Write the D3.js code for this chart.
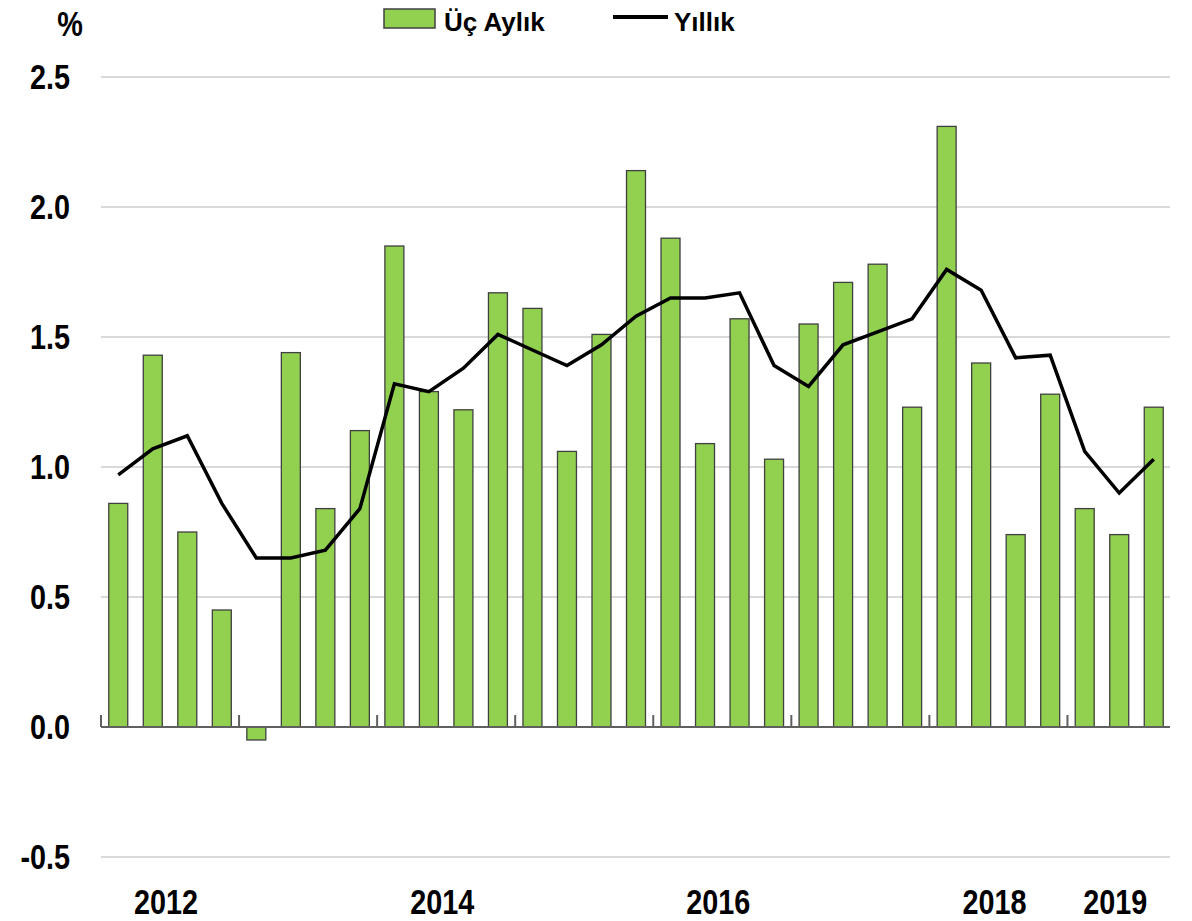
<!DOCTYPE html>
<html><head><meta charset="utf-8">
<script src="https://cdn.jsdelivr.net/npm/d3@7"></script>
<style>
body{margin:0;background:#fff;}
svg text{font-family:'Liberation Sans',Arial,sans-serif;font-weight:bold;fill:#000;}
</style></head><body>
<script>
const quarters = ["2012Q1","2012Q2","2012Q3","2012Q4","2013Q1","2013Q2","2013Q3","2013Q4",
"2014Q1","2014Q2","2014Q3","2014Q4","2015Q1","2015Q2","2015Q3","2015Q4",
"2016Q1","2016Q2","2016Q3","2016Q4","2017Q1","2017Q2","2017Q3","2017Q4",
"2018Q1","2018Q2","2018Q3","2018Q4","2019Q1","2019Q2","2019Q3"];
const quarterly = [0.86,1.43,0.75,0.45,-0.05,1.44,0.84,1.14,
1.85,1.29,1.22,1.67,1.61,1.06,1.51,2.14,
1.88,1.09,1.57,1.03,1.55,1.71,1.78,1.23,
2.31,1.40,0.74,1.28,0.84,0.74,1.23];
const annual = [0.97,1.07,1.12,0.86,0.65,0.65,0.68,0.84,
1.32,1.29,1.38,1.51,1.45,1.39,1.47,1.58,
1.65,1.65,1.67,1.39,1.31,1.47,1.52,1.57,
1.76,1.68,1.42,1.43,1.06,0.90,1.03];
const yearLabels = ["2012","2014","2016","2018","2019"];
const yTicks = [-0.5,0,0.5,1.0,1.5,2.0,2.5];
const seriesNames = ["Üç Aylık","Yıllık"];

const W=1192,H=921;
const svg=d3.select("body").append("svg").attr("width",W).attr("height",H);
const x=d3.scaleBand().domain(quarters).range([101,1171]).paddingInner(0.45).paddingOuter(0.225);
const y=d3.scaleLinear().domain([-0.5,2.5]).range([857,77]);
const NARROW=0.8;

// gridlines
svg.append("g").selectAll("line").data(yTicks.filter(d=>d!==0)).join("line")
 .attr("x1",101).attr("x2",1170).attr("y1",d=>y(d)).attr("y2",d=>y(d))
 .attr("stroke","#d9d9d9").attr("stroke-width",2);

// y labels
svg.append("g").selectAll("text").data(yTicks).join("text")
 .attr("transform",d=>`translate(70,${y(d)+12}) scale(${NARROW},1)`).attr("text-anchor","end")
 .style("font-size","36px").text(d=>d.toFixed(1));
svg.append("text").attr("transform",`translate(70,36) scale(${NARROW},1)`).attr("text-anchor","middle")
 .style("font-size","36px").text("%");

// bars
svg.append("g").selectAll("rect").data(quarters).join("rect")
 .attr("x",d=>x(d)).attr("width",x.bandwidth())
 .attr("y",(d,i)=>y(Math.max(0,quarterly[i])))
 .attr("height",(d,i)=>Math.abs(y(quarterly[i])-y(0)))
 .attr("fill","#92d050").attr("stroke","#404040").attr("stroke-width",1.3);

// zero axis
svg.append("line").attr("x1",101).attr("x2",1170).attr("y1",y(0)).attr("y2",y(0))
 .attr("stroke","#606060").attr("stroke-width",2);
const yearStarts=quarters.filter(q=>q.endsWith("Q1"));
svg.append("g").selectAll("line").data(yearStarts).join("line")
 .attr("x1",d=>x(d)-x.step()*x.paddingInner()/2).attr("x2",d=>x(d)-x.step()*x.paddingInner()/2)
 .attr("y1",y(0)).attr("y2",y(0)-12).attr("stroke","#606060").attr("stroke-width",2);

// line
const line=d3.line().x((d,i)=>x(quarters[i])+x.bandwidth()/2).y(d=>y(d));
svg.append("path").datum(annual).attr("d",line).attr("fill","none")
 .attr("stroke","#000").attr("stroke-width",3.5).attr("stroke-linejoin","miter");

// year labels
svg.append("g").selectAll("text").data(yearLabels).join("text")
 .attr("transform",yr=>{const qs=quarters.filter(q=>q.startsWith(yr));
   const a=x(qs[0]),b=x(qs[qs.length-1])+x.bandwidth();return `translate(${(a+b)/2-4},914) scale(${NARROW},1)`;})
 .attr("text-anchor","middle").style("font-size","36px").text(d=>d);

// legend
svg.append("rect").attr("x",384).attr("y",9).attr("width",51).attr("height",19)
 .attr("fill","#92d050").attr("stroke","#404040").attr("stroke-width",1.5);
svg.append("text").attr("x",444).attr("y",31).style("font-size","26px").text(seriesNames[0]);
svg.append("line").attr("x1",613).attr("x2",668).attr("y1",17).attr("y2",17).attr("stroke","#000").attr("stroke-width",4);
svg.append("text").attr("x",674).attr("y",31).style("font-size","26px").text(seriesNames[1]);
</script>
</body></html>
